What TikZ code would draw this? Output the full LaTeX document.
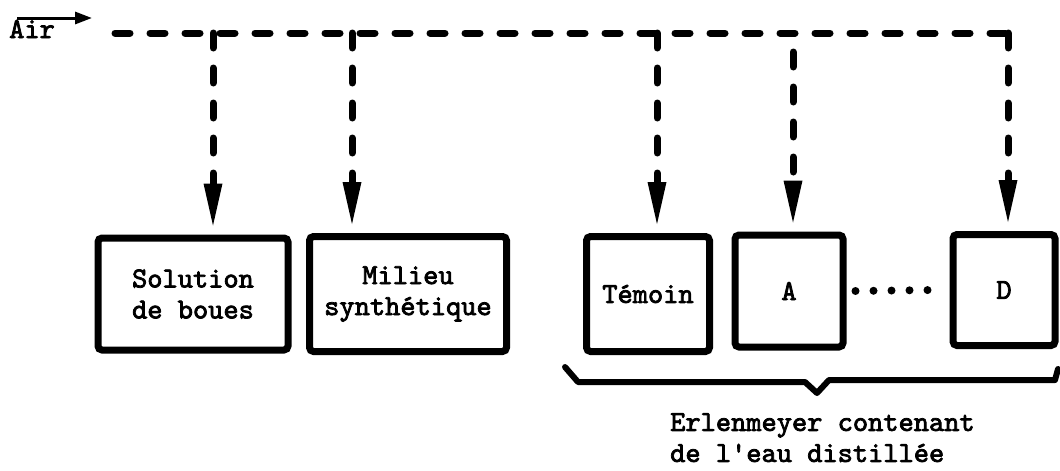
\documentclass[tikz,border=0pt]{standalone}
\usepackage{fontspec}
\newfontfamily\flaskfont{lmmono10-regular}[Extension=.otf, FakeBold=2.6, AutoFakeBold=2.6]
\usepackage{tikz}
\usetikzlibrary{arrows.meta}

\begin{document}
\begin{tikzpicture}[x=1pt, y=-1pt]
  \tikzset{TextStyle/.style={font=\flaskfont\bfseries\fontsize{29}{31}\selectfont, inner sep=0pt}}
  \tikzset{BoxStyle/.style={TextStyle, draw, line width=7pt, rounded corners=4pt, align=center}}
  \tikzset{FlowStyle/.style={line width=7pt, line cap=round, dash pattern=on 15pt off 20pt}}
  \tikzset{DropStyle/.style={FlowStyle, shorten >=9pt,
      -{Triangle[length=42pt, width=19pt, line width=0pt]}}}
  \useasboundingbox (0,0) rectangle (1060,471);

  % incubation flasks
  \node[BoxStyle, minimum width=190pt, minimum height=112pt] (sol) at (193,294) {Solution\\de boues};
  \node[BoxStyle, minimum width=197pt, minimum height=115pt] (mil) at (408,294) {Milieu\\synthétique};
  \node[BoxStyle, minimum width=123pt, minimum height=115pt] (tem) at (648,294) {Témoin};
  \node[BoxStyle, minimum width=108pt, minimum height=112pt] (a) at (789,291) {A};
  \node[BoxStyle, minimum width=102pt, minimum height=111pt] (d) at (1004,290) {D};
  \draw[line width=8pt, line cap=round, dash pattern=on 0pt off 18pt]
    ([xshift=9pt]a.east) -- ([xshift=-16pt]d.west);

  % air supply
  \node[TextStyle, anchor=base west] (air) at (9,38) {Air};
  \coordinate (airfrom) at (17,18);
  \coordinate (airto) at (92,18);
  \draw[line width=3pt, -{Triangle[length=17pt, width=12pt]}] (airfrom) -- (airto);

  \coordinate (feed) at (115,33);
  \coordinate (feedend) at (1010,33);
  \coordinate (j1) at (213,33);
  \coordinate (j2) at (352,33);
  \coordinate (j3) at (657,33);
  \coordinate (j4) at (793,33);
  \coordinate (j5) at (1008,33);
  \draw[FlowStyle] (feed) -- (feedend);
  \draw[DropStyle] (j1) -- (j1 |- sol.north);
  \draw[DropStyle] (j2) -- (j2 |- mil.north);
  \draw[DropStyle] (j3) -- (j3 |- tem.north);
  \draw[DropStyle] ([yshift=-19pt]j4) -- (j4 |- a.north);
  \draw[DropStyle] (j5) -- (j5 |- d.north);

  % brace under the Erlenmeyer flasks
  \draw[line width=6pt, line join=round, line cap=round]
    (565,367) -- (578,382) -- (805,382) -- (817,393) -- (829,380) -- (1055,380) -- (1058,369);
  \node[TextStyle, align=left, anchor=north west] (note) at (670,413)
    {Erlenmeyer contenant\\de l'eau distillée};
\end{tikzpicture}
\end{document}
